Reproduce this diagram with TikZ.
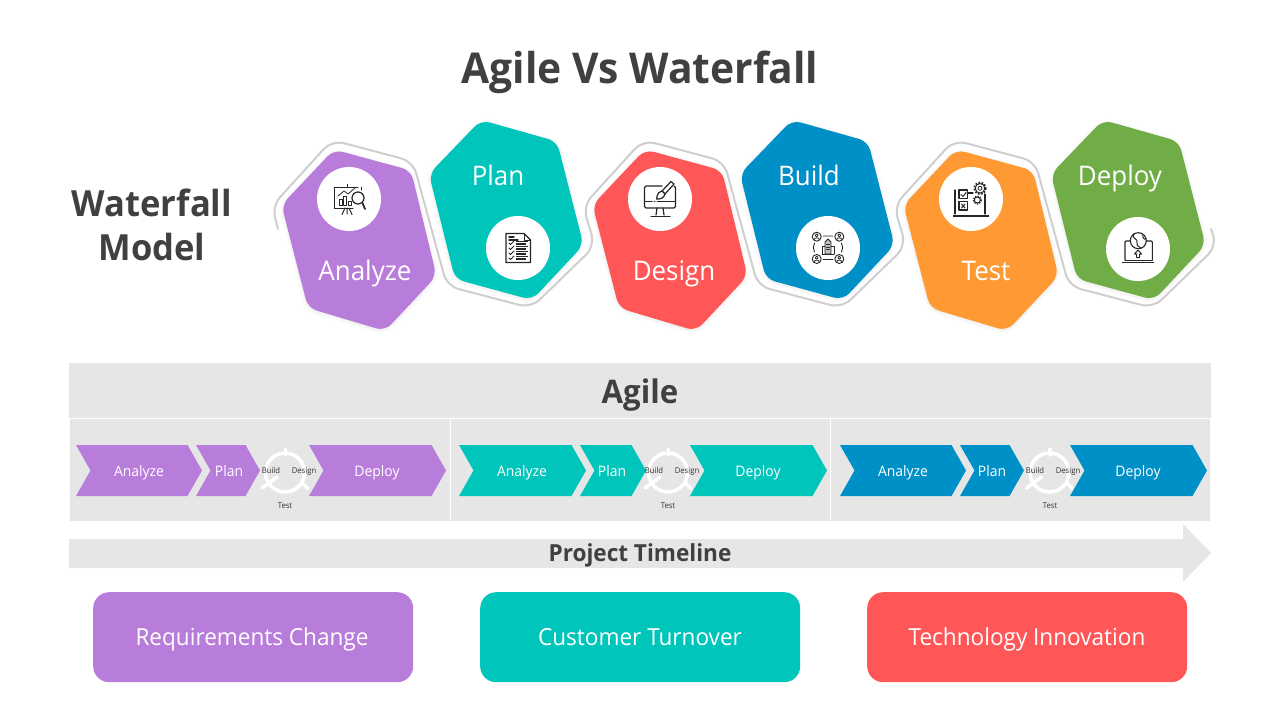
\documentclass[tikz,border=0pt]{standalone}
\usepackage{fontspec}
\setmainfont{Open Sans}[FakeStretch=0.96]
\definecolor{cPurple}{HTML}{B87CDB}
\definecolor{cTeal}{HTML}{00C5BB}
\definecolor{cRed}{HTML}{FF5757}
\definecolor{cBlue}{HTML}{0090C8}
\definecolor{cOrange}{HTML}{FF9933}
\definecolor{cGreen}{HTML}{71AD47}
\definecolor{cPanel}{HTML}{E6E6E6}
\definecolor{cText}{HTML}{404040}
\definecolor{cSnake}{HTML}{CFCFCF}
\tikzset{
  x=1pt,y=-1pt,
  icon/.style={draw=black!85,line width=1pt,line cap=round,line join=round},
  hexlabel/.style={text=white,font=\fontsize{27}{30}\selectfont,inner sep=0pt,anchor=base},
  chevlabel/.style={text=white,font=\fontsize{14.5}{16}\selectfont,inner sep=0pt,anchor=base},
  boxlabel/.style={text=white,font=\fontsize{23.5}{26}\selectfont,inner sep=0pt,anchor=base},
  tiny/.style={text=black!80,font=\fontsize{8}{9}\selectfont,inner sep=0pt,anchor=base},
  headtext/.style={text=cText,font=\bfseries,inner sep=0pt,align=center,anchor=base},
  bigbox/.style={rounded corners=16,inner sep=0pt,minimum width=320pt,minimum height=90pt,anchor=north west},
  iconball/.style={circle,fill=white,minimum size=64pt,inner sep=0pt},
}
% hexagon with the point up-left: x offset, colour
\newcommand\hexdown[2]{%
  \foreach \w/\o in {7/.012,4/.016,2/.02}{\path[draw=black,opacity=\o,line width=\w pt,line join=round,shift={(#1,1)},rounded corners=9]
    (334,149.5)--(411,170.5)--(436.5,276)--(385,331)--(308,308)--(281.5,205)--cycle;}
  \fill[#2,shift={(#1,0)},rounded corners=9]
    (334,149.5)--(411,170.5)--(436.5,276)--(385,331)--(308,308)--(281.5,205)--cycle;}
\newcommand\hexupimpl[2]{%
  \foreach \w/\o in {7/.012,4/.016,2/.02}{\path[draw=black,opacity=\o,line width=\w pt,line join=round,shift={(#1,1)},rounded corners=9]
    (532,300)--(455,279)--(429,174)--(481,120)--(557,141.5)--(583.5,245)--cycle;}
  \fill[#2,shift={(#1,0)},rounded corners=9]
    (532,300)--(455,279)--(429,174)--(481,120)--(557,141.5)--(583.5,245)--cycle;}
% chevron: left x, right tip x, colour
\newcommand\chev[3]{\fill[#3] (#1,445)--(#2-14.5,445)--(#2,470.5)--(#2-14.5,496)--(#1,496)--(#1+14.5,470.5)--cycle;}
% white ring, centred at x
\newcommand\ring[1]{\begin{scope}[shift={(#1,0)},draw=white,line width=3.5pt,line cap=round]
  \draw (0,472.5) circle[radius=19.5];
  \draw (0.7,449)--(0.7,455);
  \draw (17,483)--(23,488.5);
  \draw (-23,488)--(-8,477);
\end{scope}}
\begin{document}
\begin{tikzpicture}
\useasboundingbox (0,0) rectangle (1280,720);
\fill[white] (0,0) rectangle (1280,720);
\node[headtext,font=\bfseries\fontsize{42.5}{46}\selectfont] (title) at (640,83) {Agile Vs Waterfall};
\node[headtext,font=\bfseries\fontsize{36}{44}\selectfont] (wf1) at (152,216) {Waterfall};
\node[headtext,font=\bfseries\fontsize{36}{44}\selectfont] (wf2) at (152,260) {Model};

% snake outline
\draw[cSnake,line width=2pt,rounded corners=12,line cap=round]
 (278,229)--(272,206)--(332,140)--(413,161.5)--(447,286)--(531,308)--(595,246)
 --(583,206)--(643,140)--(724,161.5)--(758,286)--(842,308)--(906,246)
 --(894,206)--(954,140)--(1035,161.5)--(1069,286)--(1153,308)--(1217,246)--(1211,229);

\hexdown{0}{cPurple}
\hexupimpl{0}{cTeal}
\hexdown{311}{cRed}
\hexupimpl{311}{cBlue}
\hexdown{622}{cOrange}
\hexupimpl{622}{cGreen}

\node[hexlabel] (lAnalyze) at (365,280.5) {Analyze};
\node[hexlabel] (lPlan) at (498,185.5) {Plan};
\node[hexlabel] (lDesign) at (674,280.5) {Design};
\node[hexlabel] (lBuild) at (809,185.5) {Build};
\node[hexlabel] (lTest) at (986,280.5) {Test};
\node[hexlabel] (lDeploy) at (1120,185.5) {Deploy};

\node[iconball] (iAnalyze) at (349,199) {};
\node[iconball] (iPlan) at (518,248) {};
\node[iconball] (iDesign) at (660,199) {};
\node[iconball] (iBuild) at (828,248) {};
\node[iconball] (iTest) at (971,199) {};
\node[iconball] (iDeploy) at (1138,249) {};

% Analyze icon
\draw[icon] (358,187)--(334,187)--(334,208)--(353,208);
\draw[icon] (361,187)--(361,190);
\draw[icon] (347,187)--(347,184.5);
\draw[icon] (345,208)--(342,214.5) (347,208)--(347,214) (349,208)--(352,214.5);
\draw[icon,line width=.9pt] (339,205)rectangle(342,199) (343.5,205)rectangle(346.5,196) (348,205)rectangle(351,201);
\draw[icon,line width=.8pt] (338,196)--(344,191)--(348,194)--(355,188);
\draw[icon,fill=white,line width=1.2pt] (358,198) circle[radius=6];
\draw[icon,line width=1.8pt] (362.5,203)--(365,209);
% Plan icon
\draw[icon,line width=1.2pt,line join=miter] (506,233.5)--(524,233.5)--(530.5,240)--(530.5,262.5)--(506,262.5)--cycle;
\draw[icon] (524,233.5)--(524,240)--(530.5,240);
\draw[icon,line width=1.4pt] (509,237)--(514,237) (509,240)--(518,240);
\foreach \y in {243,248,253,258}{
  \draw[icon,line width=.9pt] (509,\y)--(510.5,\y+1.5)--(514,\y-2);
  \draw[icon,line width=1.2pt,line cap=butt] (516,\y-1.5)--(528,\y-1.5) (516,\y+1)--(526,\y+1);
}
% Design icon
\draw[icon,line width=1.2pt,rounded corners=1.5] (662,186)--(644.5,186)--(644.5,208)--(675.5,208)--(675.5,186)--(674,186);
\draw[icon] (645,201.5)--(652,201.5) (654,201.5)--(655,201.5) (657,201.5)--(675,201.5);
\draw[icon,line width=1.2pt] (657,208)--(656,215) (663,208)--(664,215);
\draw[icon,line width=1.2pt] (651,216.5)--(670,216.5);
\draw[icon,fill=white,line width=1.2pt] (671,181.5)--(674,184)--(665,194)--(662,191)--cycle;
\draw[icon,fill=white,line width=1.2pt] (662,191)--(665,194)..controls (664,198) and (660,199.5) .. (656.5,199)..controls (658,196) and (656,193) .. (662,191);
% Build icon
\foreach \cx/\cy in {816.7/236.7,839.3/236.7,816.7/259,839.3/259}{
  \draw[icon,line width=.9pt] (\cx,\cy) circle[radius=4.5];
  \draw[icon,line width=.8pt] (\cx,\cy-1.3) circle[radius=1.5];
  \draw[icon,line width=.8pt] (\cx-2.7,\cy+3)..controls (\cx-2,\cy+.5) and (\cx+2,\cy+.5) .. (\cx+2.7,\cy+3);
}
\draw[icon,line width=.9pt] (823,236)--(833,236) (823,259.5)--(833,259.5) (814.5,243)..controls (813,246) and (813,249) .. (814.5,252) (841.5,243)..controls (843,246) and (843,249) .. (841.5,252);
\draw[icon,fill=black!25,line width=.9pt] (825,242)--(828,239)--(831,242)--(831,254)--(825,254)--cycle;
\draw[icon,line width=.9pt] (822,254)--(834,254) (822,254)--(822,246)--(825,246) (834,254)--(834,246)--(831,246);
\draw[icon,line width=.7pt] (826.5,244.5)--(829.5,244.5) (826.5,247)--(829.5,247) (826.5,249.5)--(829.5,249.5);
% Test icon
\draw[icon,line width=1.2pt] (955,190)--(955,214) (985,194)--(985,214);
\draw[icon,line width=1.6pt,line cap=butt] (952.5,216)--(988.5,216);
\draw[icon,fill=white,line width=1.2pt] (959,190) rectangle (967.5,198.3);
\draw[icon,fill=white,line width=1.2pt] (959,201.7) rectangle (967.5,210);
\draw[icon,line width=1pt] (961,194.5)--(963,196.5)--(966,192.5);
\draw[icon,line width=1pt] (961.5,204)--(965,208) (965,204)--(961.5,208);
\draw[icon,line width=1.4pt] (967.5,193)--(973,193);
\draw[icon,fill=white] (980,188.3) circle[radius=4.8];
\draw[icon,line width=1.6pt,dash pattern=on 1.6pt off 1.6pt,line cap=butt] (980,188.3) circle[radius=5.8];
\draw[icon,line width=.8pt] (980,188.3) circle[radius=2];
\draw[icon,fill=white] (977.3,200) circle[radius=3];
\draw[icon,line width=1.4pt,dash pattern=on 1.3pt off 1.3pt,line cap=butt] (977.3,200) circle[radius=3.9];
% Deploy icon
\draw[icon,line width=1.1pt,rounded corners=1] (1125,260)--(1125,241)--(1152.3,241)--(1152.3,260);
\draw[icon,line width=1.4pt] (1122.5,262.5)--(1153.3,262.5);
\draw[icon,line width=.8pt] (1125,260)--(1152.3,260);
\draw[icon,fill=white,line width=1.1pt] (1138.3,240.7) circle[radius=8];
\draw[icon,line width=1pt] (1134,233.5)..controls (1131,240) and (1139,238) .. (1137,243)..controls (1136,246) and (1140,247) .. (1141,248);
\draw[icon,line width=1pt] (1143,234.5)..controls (1142,238) and (1145,240) .. (1146,239);
\draw[icon,line width=1pt] (1138,250)--(1134.5,254)--(1136.5,254)--(1136.5,257.5)--(1139.5,257.5)--(1139.5,254)--(1141.5,254)--cycle;

% Agile
\fill[cPanel] (69,363) rectangle (1211,417.5);
\node[headtext,font=\bfseries\fontsize{32.5}{36}\selectfont] (agile) at (640,403) {Agile};
\fill[cPanel] (70,418.5) rectangle (449.5,521);
\fill[cPanel] (450.5,418.5) rectangle (830,521);
\fill[cPanel] (831,418.5) rectangle (1210,521);

\chev{76}{202}{cPurple}\chev{196}{260}{cPurple}
\ring{285}\chev{309}{446}{cPurple}
\chev{459}{586}{cTeal}\chev{580}{646}{cTeal}
\ring{668}\chev{690}{827}{cTeal}
\chev{840}{966}{cBlue}\chev{960}{1024}{cBlue}
\ring{1049.5}\chev{1070}{1207}{cBlue}

\node[chevlabel] (a1) at (139,476) {Analyze};
\node[chevlabel] (p1) at (229,476) {Plan};
\node[chevlabel] (d1) at (377,476) {Deploy};
\node[chevlabel] (a2) at (522,476) {Analyze};
\node[chevlabel] (p2) at (612,476) {Plan};
\node[chevlabel] (d2) at (758,476) {Deploy};
\node[chevlabel] (a3) at (903,476) {Analyze};
\node[chevlabel] (p3) at (992,476) {Plan};
\node[chevlabel] (d3) at (1138,476) {Deploy};

\node[tiny] (b1) at (271,473) {Build};
\node[tiny] (e1) at (304,473) {Design};
\node[tiny] (t1) at (285,508) {Test};
\node[tiny] (b2) at (654,473) {Build};
\node[tiny] (e2) at (687,473) {Design};
\node[tiny] (t2) at (668,508) {Test};
\node[tiny] (b3) at (1035,473) {Build};
\node[tiny] (e3) at (1068,473) {Design};
\node[tiny] (t3) at (1050,508) {Test};

% timeline
\fill[cPanel] (69,539)--(1183,539)--(1183,524)--(1211,553)--(1183,582)--(1183,568)--(69,568)--cycle;
\node[headtext,font=\bfseries\fontsize{23.5}{26}\selectfont] (tl) at (640,561.5) {Project Timeline};

\node[bigbox,fill=cPurple] (r1) at (93,592) {};
\node[bigbox,fill=cTeal] (r2) at (480,592) {};
\node[bigbox,fill=cRed] (r3) at (867,592) {};
\node[boxlabel] (q1) at (252,645.5) {Requirements Change};
\node[boxlabel] (q2) at (640,645.5) {Customer Turnover};
\node[boxlabel] (q3) at (1027,645.5) {Technology Innovation};
\end{tikzpicture}
\end{document}
